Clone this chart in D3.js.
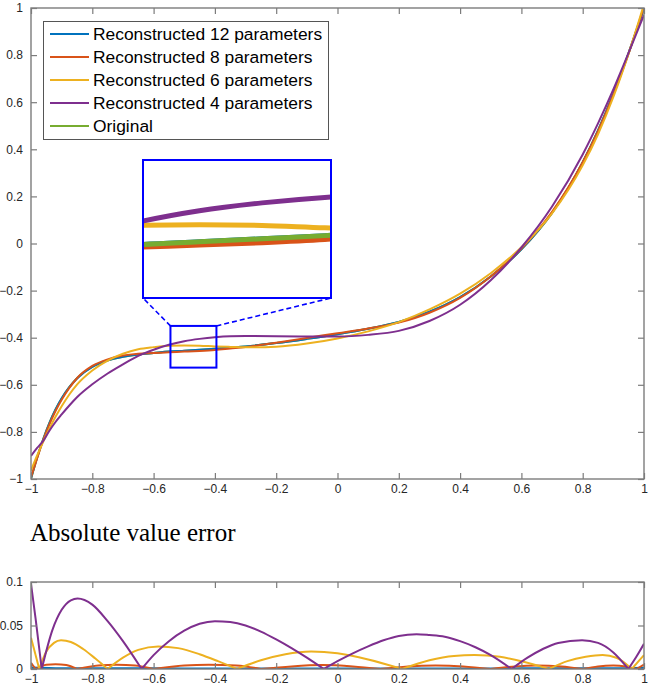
<!DOCTYPE html>
<html>
<head>
<meta charset="utf-8">
<script src="https://cdn.jsdelivr.net/npm/d3@7"></script>
<style>
body { margin: 0; background: #fff; }
svg { display: block; }
</style>
</head>
<body>
<div class="chart"></div>
<script>
// values
var xTop = [-1,-0.98,-0.96,-0.94,-0.92,-0.9,-0.875,-0.85,-0.8,-0.75,-0.7,-0.65,-0.6,-0.55,-0.5,-0.45,-0.4,-0.35,-0.3,-0.2,-0.1,0,0.1,0.2,0.3,0.4,0.5,0.6,0.7,0.8,0.85,0.9,0.95,1];
var original = [-1.000,-0.910,-0.830,-0.762,-0.705,-0.658,-0.610,-0.572,-0.524,-0.497,-0.481,-0.471,-0.465,-0.459,-0.455,-0.451,-0.447,-0.442,-0.437,-0.423,-0.405,-0.385,-0.362,-0.333,-0.290,-0.228,-0.140,-0.025,0.130,0.345,0.480,0.635,0.810,1.000];
var rec12 = [-0.998,-0.909,-0.831,-0.763,-0.705,-0.657,-0.610,-0.573,-0.524,-0.496,-0.481,-0.471,-0.465,-0.459,-0.455,-0.451,-0.447,-0.442,-0.437,-0.423,-0.405,-0.385,-0.362,-0.333,-0.290,-0.228,-0.140,-0.025,0.130,0.345,0.480,0.635,0.810,1.000];
var rec8 = [-0.993,-0.912,-0.834,-0.768,-0.711,-0.663,-0.613,-0.572,-0.520,-0.492,-0.476,-0.468,-0.465,-0.462,-0.459,-0.456,-0.452,-0.446,-0.440,-0.421,-0.401,-0.381,-0.361,-0.336,-0.294,-0.231,-0.140,-0.022,0.134,0.345,0.477,0.631,0.808,1.005];
var rec6 = [-0.964,-0.900,-0.841,-0.786,-0.736,-0.691,-0.641,-0.599,-0.539,-0.497,-0.468,-0.449,-0.440,-0.434,-0.433,-0.434,-0.437,-0.439,-0.441,-0.438,-0.425,-0.403,-0.373,-0.334,-0.280,-0.213,-0.126,-0.016,0.128,0.332,0.464,0.622,0.807,1.016];
var rec4 = [-0.902,-0.868,-0.838,-0.795,-0.758,-0.726,-0.688,-0.653,-0.598,-0.552,-0.513,-0.477,-0.451,-0.430,-0.415,-0.405,-0.398,-0.394,-0.393,-0.394,-0.395,-0.395,-0.388,-0.371,-0.329,-0.260,-0.156,-0.017,0.157,0.378,0.510,0.654,0.810,0.971];

// absolute error, one x list per series
var errX12 = [-1,-0.9,-0.7,-0.5,-0.3,-0.1,0.1,0.3,0.5,0.7,0.9,1];
var err12 = [0.0015,0.0006,0.0005,0.0004,0.0004,0.0003,0.0003,0.0004,0.0004,0.0005,0.0006,0.0012];
var errX8 = [-1,-0.985,-0.95,-0.92,-0.885,-0.85,-0.78,-0.72,-0.66,-0.6,-0.5,-0.42,-0.33,-0.25,-0.15,-0.05,0.05,0.14,0.23,0.32,0.41,0.5,0.58,0.65,0.73,0.8,0.85,0.9,0.94,0.975,1];
var err8 = [0.007,0,0.005,0.0055,0.0045,0,0.004,0.005,0.004,0,0.004,0.005,0.004,0,0.003,0.0045,0.003,0,0.003,0.004,0.003,0,0.003,0.004,0.003,0,0.003,0.004,0.003,0,0.005];
var errX6 = [-1,-0.973,-0.95,-0.925,-0.902,-0.87,-0.83,-0.79,-0.75,-0.7,-0.65,-0.585,-0.52,-0.45,-0.39,-0.328,-0.25,-0.17,-0.086,0,0.1,0.211,0.3,0.38,0.447,0.53,0.61,0.69,0.75,0.81,0.865,0.91,0.96,1];
var err6 = [0.036,0,0.020,0.030,0.033,0.031,0.023,0.012,0,0.013,0.022,0.026,0.024,0.017,0.009,0,0.010,0.017,0.020,0.018,0.011,0,0.010,0.015,0.016,0.014,0.008,0,0.009,0.014,0.016,0.013,0,0.016];
var errX4 = [-1,-0.985,-0.965,-0.93,-0.9,-0.87,-0.848,-0.8,-0.75,-0.7,-0.639,-0.6,-0.55,-0.5,-0.45,-0.4,-0.35,-0.3,-0.25,-0.2,-0.15,-0.1,-0.045,0,0.05,0.1,0.15,0.2,0.258,0.3,0.35,0.4,0.45,0.5,0.568,0.62,0.67,0.72,0.798,0.85,0.9,0.949,0.975,1];
var err4 = [0.098,0.058,0,0.045,0.068,0.079,0.081,0.074,0.055,0.032,0,0.016,0.032,0.044,0.052,0.055,0.054,0.050,0.043,0.034,0.024,0.013,0,0.009,0.018,0.026,0.033,0.038,0.040,0.039,0.037,0.032,0.025,0.016,0,0.013,0.023,0.030,0.033,0.030,0.019,0,0.014,0.029];

var xTicks = [-1,-0.8,-0.6,-0.4,-0.2,0,0.2,0.4,0.6,0.8,1];
var yTicks = [-1,-0.8,-0.6,-0.4,-0.2,0,0.2,0.4,0.6,0.8,1];
var errTicks = [0,0.05,0.1];
var legendNames = ["Reconstructed 12 parameters","Reconstructed 8 parameters","Reconstructed 6 parameters","Reconstructed 4 parameters","Original"];
var colors = ["#0072BD","#D95319","#EDB120","#7E2F8E","#77AC30"];

var w = 648, h = 689;
var frameColor = "#7c7c7c";
var svg = d3.select(".chart").append("svg").attr("width", w).attr("height", h);
var defs = svg.append("defs");

var x = d3.scaleLinear().domain([-1, 1]).range([31, 644]);
var y = d3.scaleLinear().domain([-1, 1]).range([479, 8]);
var yErr = d3.scaleLinear().domain([0, 0.1]).range([669, 582]);

function fmt(d) { return d3.format("")(d); }

function drawFrame(g, xs, ys, yt, labels) {
    var x0 = xs.range()[0], x1 = xs.range()[1], y0 = ys.range()[0], y1 = ys.range()[1];
    g.append("g").attr("transform", `translate(0,${y0})`)
        .call(d3.axisBottom(xs).tickValues(xTicks).tickSizeInner(-6).tickSizeOuter(0).tickPadding(5).tickFormat(fmt));
    g.append("g").attr("transform", `translate(0,${y1})`)
        .call(d3.axisTop(xs).tickValues(xTicks).tickSizeInner(-6).tickSizeOuter(0).tickFormat(""));
    g.append("g").attr("transform", `translate(${x0},0)`)
        .call(d3.axisLeft(ys).tickValues(yt).tickSizeInner(-6).tickSizeOuter(0).tickPadding(8).tickFormat(labels));
    g.append("g").attr("transform", `translate(${x1},0)`)
        .call(d3.axisRight(ys).tickValues(yt).tickSizeInner(-6).tickSizeOuter(0).tickFormat(""));
    g.selectAll(".domain").remove();
    g.selectAll(".tick line").attr("stroke", frameColor).attr("stroke-width", 1.2);
    g.selectAll(".tick text").attr("fill", "#262626").style("font-family", "'Liberation Sans', Arial, sans-serif").style("font-size", "12px");
    g.append("rect").attr("x", x0).attr("y", y1).attr("width", x1 - x0).attr("height", y0 - y1)
        .attr("fill", "none").attr("stroke", frameColor).attr("stroke-width", 1.4);
}

// ---- main axes
defs.append("clipPath").attr("id", "clipMain").append("rect")
    .attr("x", 31).attr("y", 8).attr("width", 613).attr("height", 471);
var main = svg.append("g");
var lineMain = d3.line().x((d) => x(d[0])).y((d) => y(d[1])).curve(d3.curveMonotoneX);
var mainOrder = [[original, 4], [rec12, 0], [rec8, 1], [rec6, 2], [rec4, 3]];
var plotG = main.append("g").attr("clip-path", "url(#clipMain)");
mainOrder.forEach(function(s) {
    plotG.append("path")
        .attr("d", lineMain(xTop.map((v, i) => [v, s[0][i]])))
        .attr("fill", "none").attr("stroke", colors[s[1]]).attr("stroke-width", 2);
});
drawFrame(main, x, y, yTicks, fmt);

// ---- zoom rectangle + inset
var zx0 = -0.545, zx1 = -0.395, zy0 = -0.527, zy1 = -0.35;
var box = { l: 143, r: 331, t: 160, b: 298 };
var zoomBlue = "#0000ff";
main.append("rect").attr("x", x(zx0)).attr("y", y(zy1)).attr("width", x(zx1) - x(zx0)).attr("height", y(zy0) - y(zy1))
    .attr("fill", "none").attr("stroke", zoomBlue).attr("stroke-width", 2);
main.append("line").attr("x1", x(zx0)).attr("y1", y(zy1)).attr("x2", box.l).attr("y2", box.b)
    .attr("stroke", zoomBlue).attr("stroke-width", 1.6).attr("stroke-dasharray", "5,3");
main.append("line").attr("x1", x(zx1)).attr("y1", y(zy1)).attr("x2", box.r).attr("y2", box.b)
    .attr("stroke", zoomBlue).attr("stroke-width", 1.6).attr("stroke-dasharray", "5,3");

var ix = d3.scaleLinear().domain([zx0, zx1]).range([box.l, box.r]);
var iy = d3.scaleLinear().domain([zy0, zy1]).range([box.b, box.t]);
defs.append("clipPath").attr("id", "clipInset").append("rect")
    .attr("x", box.l).attr("y", box.t).attr("width", box.r - box.l).attr("height", box.b - box.t);
main.append("rect").attr("x", box.l).attr("y", box.t).attr("width", box.r - box.l).attr("height", box.b - box.t).attr("fill", "#fff");
var lineInset = d3.line().x((d) => ix(d[0])).y((d) => iy(d[1])).curve(d3.curveMonotoneX);
var insetG = main.append("g").attr("clip-path", "url(#clipInset)");
[[rec12, 0], [rec8, 1], [original, 4], [rec6, 2], [rec4, 3]].forEach(function(s) {
    insetG.append("path")
        .attr("d", lineInset(xTop.map((v, i) => [v, s[0][i]])))
        .attr("fill", "none").attr("stroke", colors[s[1]]).attr("stroke-width", 5);
});
main.append("rect").attr("x", box.l).attr("y", box.t).attr("width", box.r - box.l).attr("height", box.b - box.t)
    .attr("fill", "none").attr("stroke", zoomBlue).attr("stroke-width", 2);

// ---- legend
var leg = main.append("g");
leg.append("rect").attr("x", 43.5).attr("y", 21.5).attr("width", 285).attr("height", 118)
    .attr("fill", "#fff").attr("stroke", "#555").attr("stroke-width", 1);
legendNames.forEach(function(name, i) {
    var ly = 34 + i * 23;
    leg.append("line").attr("x1", 50).attr("x2", 89).attr("y1", ly).attr("y2", ly)
        .attr("stroke", colors[i]).attr("stroke-width", 2);
    leg.append("text").attr("x", 93).attr("y", ly).attr("dy", "0.35em")
        .style("font-family", "'Liberation Sans', Arial, sans-serif").style("font-size", "17.4px")
        .attr("fill", "#000").text(name);
});

// ---- error axes
svg.append("text").attr("x", 30).attr("y", 541)
    .style("font-family", "'Liberation Serif', 'Times New Roman', serif").style("font-size", "25px")
    .attr("fill", "#000").text("Absolute value error");

defs.append("clipPath").attr("id", "clipErr").append("rect")
    .attr("x", 31).attr("y", 582).attr("width", 613).attr("height", 87);
var errG = svg.append("g");
var lineErr = d3.line().x((d) => x(d[0])).y((d) => yErr(d[1])).curve(d3.curveMonotoneX);

function arches(xs, vs) { // split at the zeros so the V shapes stay sharp
    var segs = [], cur = [];
    xs.forEach(function(xv, i) {
        cur.push([xv, vs[i]]);
        if (vs[i] === 0 && cur.length > 1) { segs.push(cur); cur = [[xv, 0]]; }
    });
    if (cur.length > 1) segs.push(cur);
    return segs;
}

var errPlot = errG.append("g").attr("clip-path", "url(#clipErr)");
[[errX12, err12, 0], [errX8, err8, 1], [errX6, err6, 2], [errX4, err4, 3]].forEach(function(s) {
    arches(s[0], s[1]).forEach(function(seg) {
        errPlot.append("path").attr("d", lineErr(seg))
            .attr("fill", "none").attr("stroke", colors[s[2]]).attr("stroke-width", s[2] == 0 ? 2.5 : 2);
    });
});
drawFrame(errG, x, yErr, errTicks, (d) => d === 0 ? "0" : String(d));
</script>
</body>
</html>
